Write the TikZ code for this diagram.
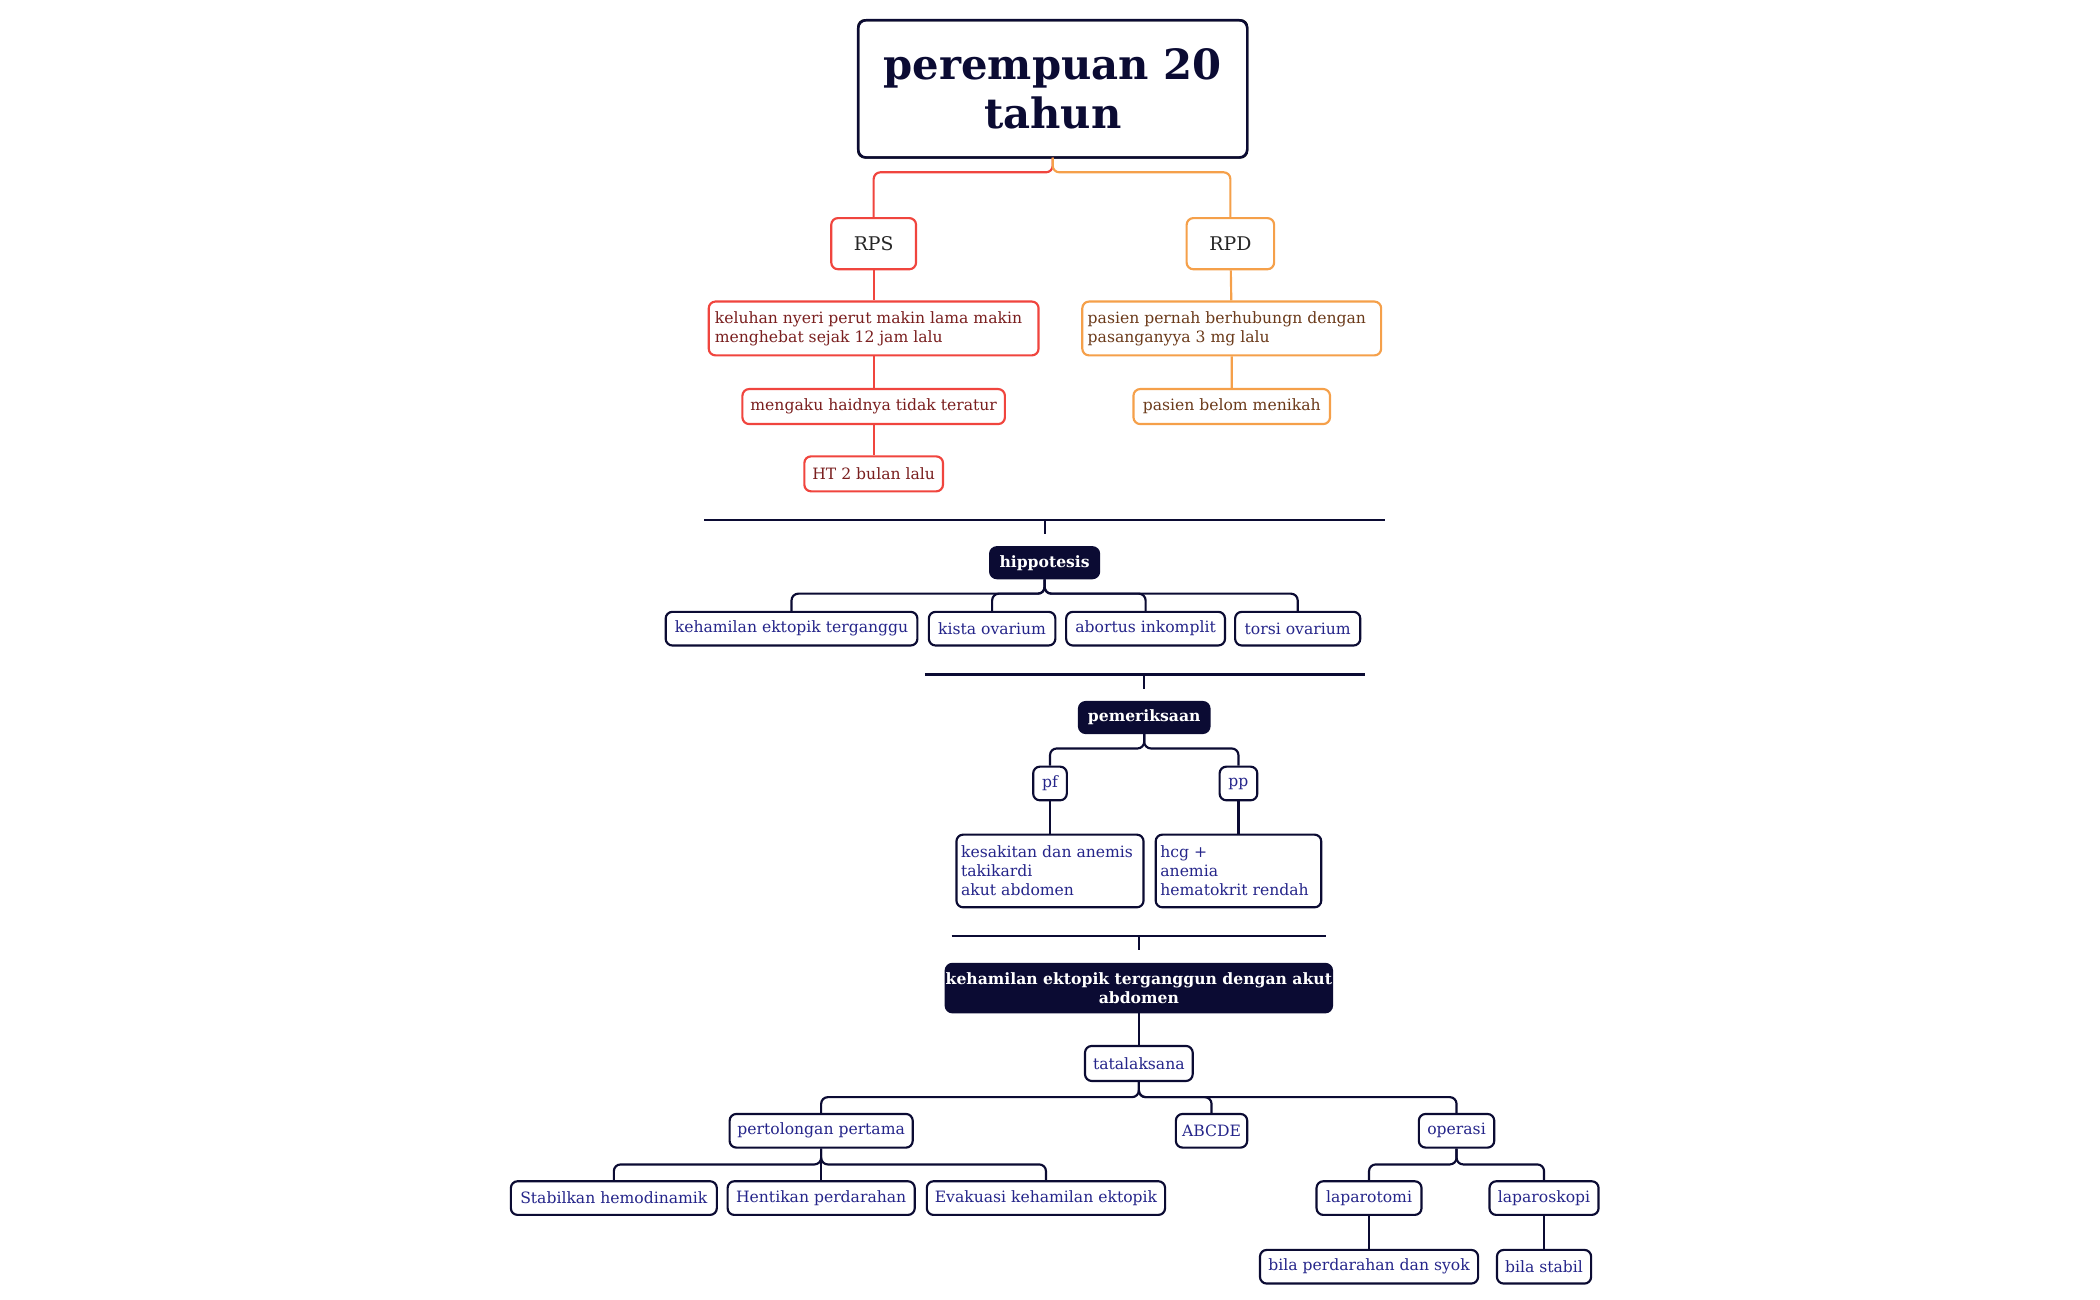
\documentclass[tikz,border=0pt]{standalone}
\usepackage{fontspec}
\setmainfont{DejaVu Serif}
\usetikzlibrary{calc}
\definecolor{navy}{HTML}{0B0B33}
\definecolor{blu}{HTML}{25258A}
\definecolor{red1}{HTML}{F0453E}
\definecolor{redt}{HTML}{7A1F1F}
\definecolor{org}{HTML}{F5A04A}
\definecolor{orgt}{HTML}{6B3A1A}
\begin{document}
\begin{tikzpicture}[x=0.5pt,y=-0.5pt,
 base/.style={draw,rounded corners=2.5pt,line width=0.8pt,inner sep=0pt,fill=white,font=\fontsize{5.8}{7}\selectfont,align=center},
 bx/.style={base,draw=navy,text=blu},
 rb/.style={base,draw=red1,text=redt},
 ob/.style={base,draw=org,text=orgt},
 dk/.style={base,draw=navy,fill=navy,text=white,font=\fontsize{5.8}{7}\selectfont\bfseries},
 ln/.style={navy,line width=0.8pt},
 br/.style={navy,line width=0.8pt,rounded corners=2.5pt}]
\useasboundingbox (0,0) rectangle (1560,965);
\def\N(#1,#2,#3,#4,#5,#6){\node[#6,minimum width=#3*0.5pt,minimum height=#4*0.5pt] (#5) at (#1,#2)}
% title
\N(782,66,289,102,t,base){};
\node[draw=navy,line width=0.9pt,rounded corners=3pt,minimum width=144.5pt,minimum height=51pt,align=center,text=navy,font=\fontsize{15.5}{18.5}\selectfont\bfseries] at (782,66) {perempuan 20\\tahun};
\N(649,181,63,38,rps,rb){\fontsize{7}{8}\selectfont\color{black!85}RPS};
\N(914,181,65,38,rpd,ob){\fontsize{7}{8}\selectfont\color{black!85}RPD};
\N(649,244,245,40,k1,rb){\parbox{118pt}{\raggedright keluhan nyeri perut makin lama makin\\menghebat sejak 12 jam lalu}};
\N(649,302,195,26,k2,rb){mengaku haidnya tidak teratur};
\N(649,352,103,26,k3,rb){HT 2 bulan lalu};
\N(915,244,222,40,p1,ob){\parbox{107pt}{\raggedright pasien pernah berhubungn dengan\\pasanganyya 3 mg lalu}};
\N(915,302,146,26,p2,ob){pasien belom menikah};
\draw[red1,line width=0.8pt,rounded corners=2.5pt] (782,117) -- (782,128) -| (rps.north);
\draw[org,line width=0.8pt,rounded corners=2.5pt] (782,117) -- (782,128) -| (rpd.north);
\draw[red1,line width=0.8pt] (rps) -- (k1) (k1) -- (k2) (k2) -- (k3);
\draw[org,line width=0.8pt] (rpd) -- (p1) (p1) -- (p2);
% hippotesis
\coordinate (s1) at (776,386);
\draw[ln] (523,386) -- (1029,386);
\N(776,418,81,23,h,dk){hippotesis};
\draw[ln] (s1) -- (776,397);
\N(588,467,187,25,h1,bx){kehamilan ektopik terganggu};
\N(737,467,94,25,h2,bx){kista ovarium};
\N(851,467,118,25,h3,bx){abortus inkomplit};
\N(964,467,93,25,h4,bx){torsi ovarium};
\foreach \c in {h1,h2,h3,h4}{\draw[br] (h.south) -- (h.south |- 0,441) -| (\c.north);}
% pemeriksaan
\draw[ln] (687,501) -- (1014,501);
\coordinate (s2) at (850,501);
\draw[ln] (s2) -- (850,512);
\N(850,533,97,23,pm,dk){pemeriksaan};
\N(780,582,25,25,pf,bx){pf};
\N(920,582,28,25,pp,bx){pp};
\foreach \c in {pf,pp}{\draw[br] (pm.south) -- (pm.south |- 0,556) -| (\c.north);}
\N(780,647,139,54,f1,bx){\parbox{66pt}{\raggedright kesakitan dan anemis\\takikardi\\akut abdomen}};
\N(920,647,123,54,f2,bx){\parbox{58pt}{\raggedright hcg +\\anemia\\hematokrit rendah}};
\draw[ln] (pf) -- (f1) (pp) -- (f2);
% diagnosis
\draw[ln] (707,695) -- (985,695);
\coordinate (s3) at (846,695);
\draw[ln] (s3) -- (846,706);
\N(846,734,278,36,d,dk){kehamilan ektopik terganggun dengan akut\\abdomen};
\N(846,790,80,26,tl,bx){tatalaksana};
\draw[ln] (d) -- (tl);
\N(610,840,136,25,a1,bx){pertolongan pertama};
\N(900,840,53,25,a2,bx){ABCDE};
\N(1082,840,56,25,a3,bx){operasi};
\foreach \c in {a1,a2,a3}{\draw[br] (tl.south) -- (tl.south |- 0,815) -| (\c.north);}
\N(456,890,153,25,b1,bx){Stabilkan hemodinamik};
\N(610,890,139,25,b2,bx){Hentikan perdarahan};
\N(777,890,177,25,b3,bx){Evakuasi kehamilan ektopik};
\foreach \c in {b1,b2,b3}{\draw[br] (a1.south) -- (a1.south |- 0,865) -| (\c.north);}
\N(1017,890,78,25,c1,bx){laparotomi};
\N(1147,890,81,25,c2,bx){laparoskopi};
\foreach \c in {c1,c2}{\draw[br] (a3.south) -- (a3.south |- 0,865) -| (\c.north);}
\N(1017,941,162,25,e1,bx){bila perdarahan dan syok};
\N(1147,941,70,25,e2,bx){bila stabil};
\draw[ln] (c1) -- (e1) (c2) -- (e2);
\end{tikzpicture}
\end{document}
